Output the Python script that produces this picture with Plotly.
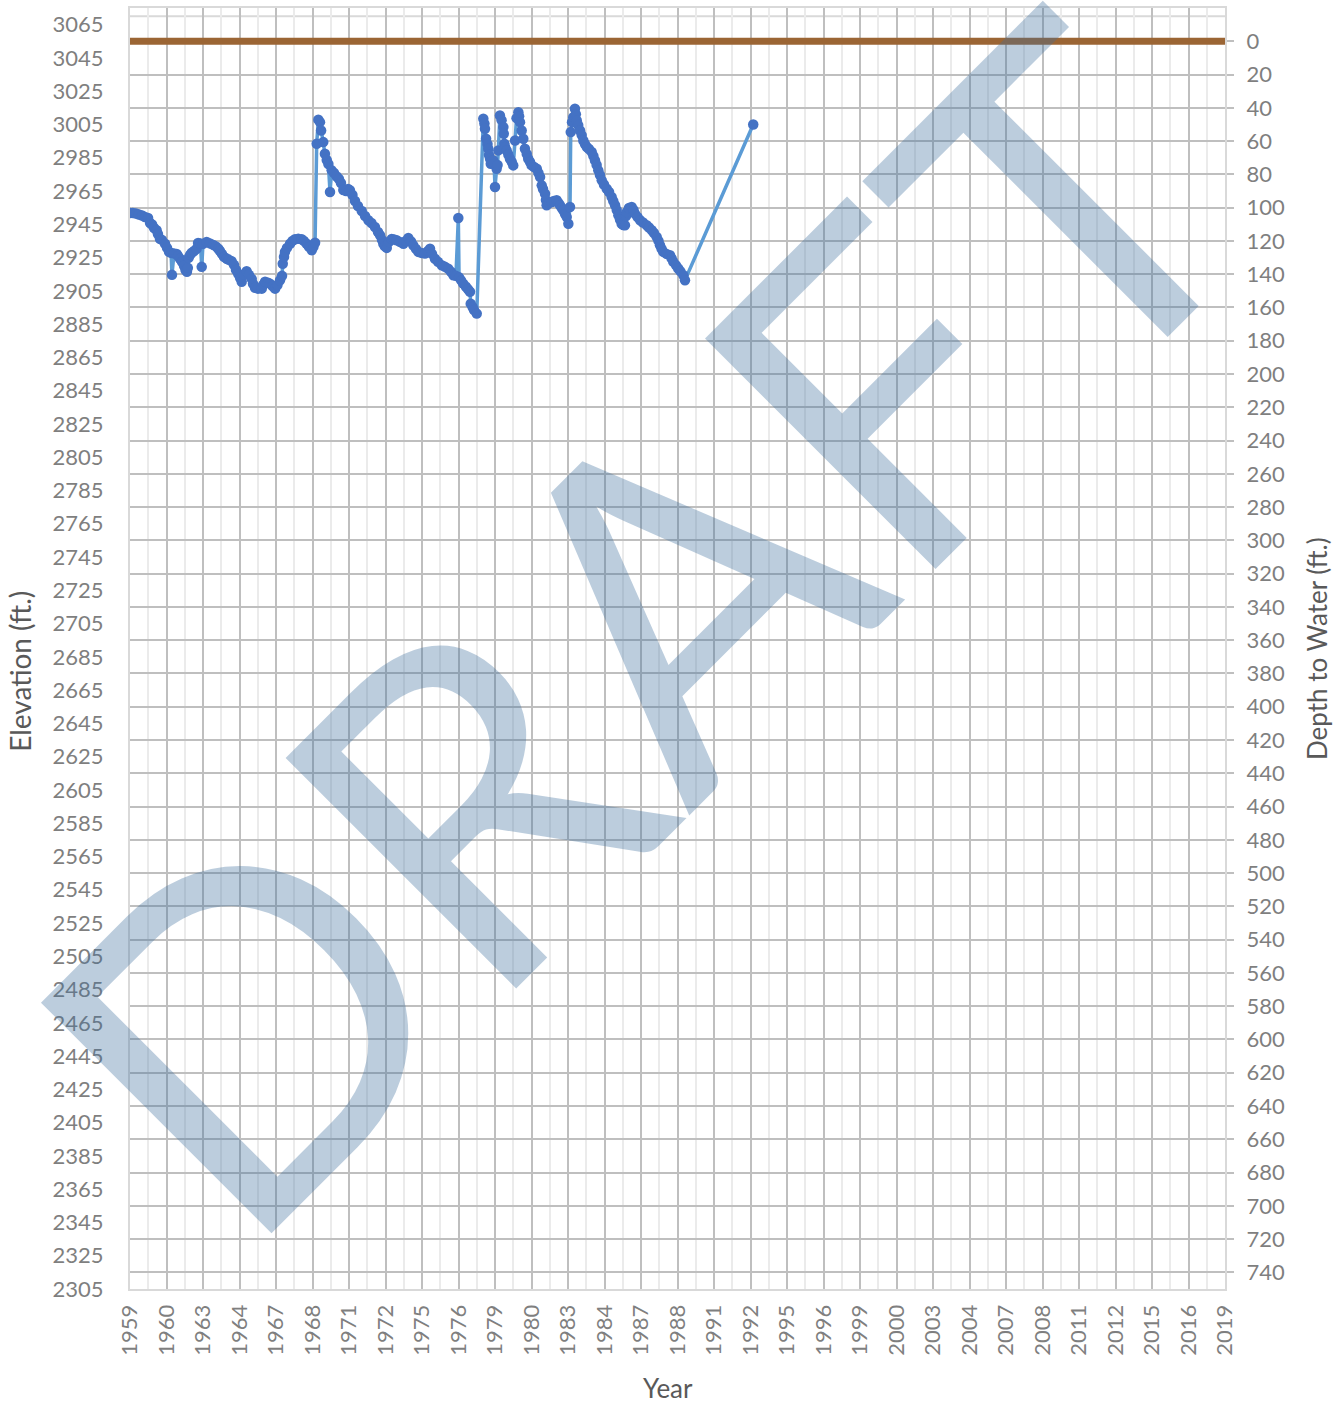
import plotly.graph_objects as go

# ---------------- data ----------------
# x positions are in axis units (each labelled tick = 2 units, first tick = 1959)
year_pos = [
    1959.00, 1959.16, 1959.33, 1959.49, 1959.66, 1959.82, 1959.99, 1960.10, 1960.21, 1960.32,
    1960.46, 1960.53, 1960.64, 1960.75, 1960.92, 1961.03, 1961.14, 1961.25, 1961.30, 1961.41,
    1961.56, 1961.63, 1961.74, 1961.85, 1961.96, 1962.04, 1962.12, 1962.17, 1962.21, 1962.29,
    1962.38, 1962.51, 1962.65, 1962.73, 1962.86, 1962.93, 1963.00, 1963.20, 1963.38, 1963.56,
    1963.71, 1963.84, 1963.93, 1964.04, 1964.15, 1964.30, 1964.42, 1964.57, 1964.70, 1964.81,
    1964.93, 1965.03, 1965.12, 1965.25, 1965.39, 1965.52, 1965.67, 1965.74, 1965.85, 1966.01,
    1966.22, 1966.29, 1966.40, 1966.56, 1966.67, 1966.81, 1966.95, 1967.08, 1967.22, 1967.33,
    1967.37, 1967.44, 1967.49, 1967.60, 1967.77, 1967.90, 1968.04, 1968.22, 1968.41, 1968.53,
    1968.68, 1968.81, 1968.96, 1969.05, 1969.14, 1969.23, 1969.32, 1969.41, 1969.47, 1969.59,
    1969.68, 1969.78, 1969.87, 1969.96, 1970.05, 1970.18, 1970.33, 1970.45, 1970.56, 1970.69,
    1970.84, 1970.95, 1971.05, 1971.19, 1971.33, 1971.49, 1971.70, 1971.88, 1972.06, 1972.23,
    1972.42, 1972.59, 1972.70, 1972.81, 1972.88, 1972.97, 1973.07, 1973.19, 1973.34, 1973.47,
    1973.61, 1973.79, 1973.98, 1974.12, 1974.25, 1974.40, 1974.52, 1974.67, 1974.80, 1974.97,
    1975.16, 1975.33, 1975.44, 1975.55, 1975.71, 1975.88, 1976.08, 1976.26, 1976.44, 1976.59,
    1976.72, 1976.86, 1976.99, 1977.03, 1977.14, 1977.26, 1977.41, 1977.52, 1977.63, 1977.67,
    1977.77, 1977.85, 1978.00,
    1978.36, 1978.42, 1978.45, 1978.51, 1978.59, 1978.63, 1978.67, 1978.73, 1978.77, 1978.81,
    1978.91, 1978.95, 1979.00, 1979.09, 1979.14, 1979.18, 1979.27, 1979.36, 1979.46, 1979.48,
    1979.51, 1979.55, 1979.64, 1979.73, 1979.82, 1979.92, 1980.00, 1980.10, 1980.18, 1980.28,
    1980.32, 1980.37, 1980.46, 1980.55, 1980.64, 1980.74, 1980.82, 1980.92, 1981.01, 1981.14,
    1981.29, 1981.38, 1981.47, 1981.56, 1981.63, 1981.74, 1981.79, 1981.83, 1981.96, 1982.11,
    1982.23, 1982.38, 1982.48, 1982.56, 1982.66, 1982.74, 1982.84, 1982.93, 1983.02, 1983.11,
    1983.15, 1983.22, 1983.29, 1983.38, 1983.43, 1983.48, 1983.56, 1983.66, 1983.75, 1983.84,
    1983.93, 1984.03, 1984.15, 1984.30, 1984.39, 1984.48, 1984.57, 1984.66, 1984.75, 1984.85,
    1984.97, 1985.12, 1985.25, 1985.39, 1985.48, 1985.58, 1985.67, 1985.76, 1985.85, 1985.94,
    1986.03, 1986.12, 1986.18, 1986.22, 1986.34, 1986.49, 1986.59, 1986.67, 1986.81, 1986.95,
    1987.11, 1987.31, 1987.44, 1987.59, 1987.71, 1987.86, 1987.96, 1988.04, 1988.13, 1988.22,
    1988.40, 1988.59, 1988.68, 1988.77, 1988.92, 1989.04, 1989.16, 1989.32, 1989.41,
    1993.15,
]

elevation_ft = [
    2951.8, 2951.8, 2951.5, 2950.9, 2950.3, 2949.4, 2948.8, 2945.8, 2944.9, 2942.8,
    2941.4, 2939.2, 2936.3, 2935.6, 2933.3, 2930.8, 2928.4, 2927.8, 2914.6, 2927.5,
    2927.2, 2926.0, 2924.3, 2922.4, 2920.0, 2917.5, 2916.4, 2918.8, 2924.8, 2926.6,
    2927.9, 2928.9, 2930.3, 2933.8, 2933.5, 2919.4, 2933.2, 2934.4, 2933.5, 2932.6,
    2931.7, 2930.3, 2928.9, 2927.2, 2925.4, 2924.3, 2923.6, 2922.8, 2920.6, 2917.5,
    2915.3, 2912.8, 2910.4, 2914.6, 2916.8, 2914.6, 2912.2, 2909.2, 2906.8, 2906.3,
    2906.3, 2908.5, 2910.4, 2909.8, 2909.3, 2907.9, 2906.3, 2908.5, 2911.4, 2914.0,
    2921.3, 2925.4, 2928.4, 2930.8, 2933.3, 2935.0, 2936.0, 2936.3, 2936.0, 2935.0,
    2933.3, 2931.4, 2929.4, 2931.4, 2933.9, 2993.4, 3007.9, 3006.4, 3001.4, 2994.4,
    2987.4, 2983.6, 2981.2, 2964.4, 2977.4, 2975.8, 2973.7, 2972.2, 2969.8, 2965.6,
    2965.0, 2966.2, 2965.4, 2962.6, 2959.0, 2956.0, 2953.0, 2950.0, 2947.4, 2945.8,
    2943.4, 2940.4, 2938.4, 2935.6, 2933.3, 2931.7, 2930.8, 2934.4, 2936.2, 2935.9,
    2935.4, 2934.4, 2933.3, 2935.0, 2936.8, 2934.7, 2932.4, 2930.2, 2928.4, 2927.8,
    2927.4, 2929.0, 2930.3, 2927.2, 2924.3, 2922.4, 2920.4, 2919.4, 2918.3, 2916.4,
    2914.4, 2914.0, 2948.8, 2913.1, 2911.3, 2909.3, 2907.4, 2905.9, 2904.4, 2897.3,
    2895.3, 2893.4, 2891.3,
    3008.4, 3005.5, 3002.4, 2996.4, 2993.2, 2990.4, 2986.6, 2984.4, 2981.4, 2983.0,
    2983.4, 2981.2, 2967.4, 2978.4, 2980.6, 2989.4, 3010.4, 3007.6, 3003.4, 2999.4,
    2993.4, 2991.4, 2989.4, 2986.9, 2984.4, 2982.4, 2980.4, 2995.4, 3008.8, 3012.4,
    3010.0, 3006.4, 3001.4, 2996.4, 2990.4, 2987.2, 2984.4, 2982.4, 2980.4, 2979.4,
    2978.4, 2975.8, 2973.4, 2968.4, 2966.2, 2963.4, 2959.6, 2956.4, 2957.8, 2958.4,
    2959.0, 2959.4, 2957.8, 2956.4, 2954.8, 2953.4, 2951.2, 2949.4, 2945.3, 2955.4,
    3000.4, 3006.4, 3009.4, 3014.4, 3011.2, 3007.4, 3004.6, 3001.4, 2998.6, 2995.4,
    2993.2, 2991.4, 2990.2, 2988.4, 2986.0, 2983.4, 2980.6, 2977.4, 2974.6, 2971.4,
    2968.9, 2966.4, 2964.4, 2961.4, 2959.0, 2956.4, 2953.6, 2950.4, 2947.9, 2945.3,
    2944.6, 2944.4, 2950.0, 2952.4, 2954.8, 2955.4, 2953.6, 2951.4, 2949.4, 2947.4,
    2946.1, 2944.4, 2943.1, 2941.4, 2939.8, 2937.4, 2935.0, 2932.4, 2930.2, 2928.4,
    2927.2, 2926.4, 2924.5, 2922.4, 2920.3, 2918.4, 2916.7, 2914.4, 2911.4,
    3005.0,
]

# ground surface (depth to water = 0)
ground_x = [1959, 2019]
ground_depth = [0, 0]

x_tick_labels = ["1959", "1960", "1963", "1964", "1967", "1968", "1971", "1972", "1975", "1976",
                 "1979", "1980", "1983", "1984", "1987", "1988", "1991", "1992", "1995", "1996",
                 "1999", "2000", "2003", "2004", "2007", "2008", "2011", "2012", "2015", "2016",
                 "2019"]
x_tick_vals = [1959 + 2 * i for i in range(len(x_tick_labels))]
elev_ticks = list(range(2305, 3066, 20))
depth_ticks = list(range(0, 741, 20))

# ---------------- figure ----------------
TICK = "#7F7F7F"
TITLE = "#595959"
GRID = "#BFBFBF"
FONT = "Lato, Carlito, Calibri, sans-serif"

fig = go.Figure()
fig.add_trace(go.Scatter(x=ground_x, y=ground_depth, yaxis="y2", mode="lines",
                         line=dict(color="#9B6534", width=7), hoverinfo="skip",
                         showlegend=False))
fig.add_trace(go.Scatter(x=year_pos, y=elevation_ft, mode="lines+markers",
                         line=dict(color="#5B9BD5", width=3.5),
                         marker=dict(color="#4472C4", size=10.5),
                         showlegend=False))

fig.update_layout(
    width=1339, height=1403,
    margin=dict(l=130, r=114, t=6, b=114),
    paper_bgcolor="white", plot_bgcolor="white",
    font=dict(family=FONT, color=TICK, size=22),
    xaxis=dict(range=[1959, 2019], tickmode="array", tickvals=x_tick_vals,
               ticktext=x_tick_labels, tickangle=-90, ticks="",
               ticklabelstandoff=5,
               showgrid=True, gridcolor=GRID, gridwidth=2, zeroline=False,
               showline=True, mirror=True, linecolor="#D9D9D9", linewidth=2,
               tickfont=dict(family=FONT, size=22, color=TICK),
               minor=dict(tickmode="linear", tick0=1960, dtick=2, showgrid=True,
                          gridcolor="#EBEBEB", gridwidth=2, ticks="")),
    yaxis=dict(range=[2305, 3075], tickmode="array", tickvals=elev_ticks,
               showgrid=False, zeroline=False, ticks="", ticklabelstandoff=20,
               showline=True, linecolor="#D9D9D9", linewidth=2,
               tickfont=dict(family=FONT, size=22, color=TICK)),
    yaxis2=dict(range=[750, -20], overlaying="y", side="right", tickmode="array",
                tickvals=depth_ticks, showgrid=True, gridcolor=GRID, gridwidth=2,
                zeroline=False, ticks="outside", ticklen=7, tickwidth=2,
                tickcolor=GRID, ticklabelstandoff=8,
                showline=True, linecolor="#D9D9D9", linewidth=2,
                tickfont=dict(family=FONT, size=22, color=TICK)),
    shapes=[dict(type="line", xref="paper", x0=0, x1=1, yref="y2", y0=-15, y1=-15,
                 line=dict(color="#D9D9D9", width=2), layer="below")],
    annotations=[
        dict(text="DRAFT", textangle=-45, x=0.4619, y=0.5222, xref="paper", yref="paper",
             xanchor="center", yanchor="middle", showarrow=False,
             font=dict(family=FONT, size=455, color="rgba(64,112,158,0.35)")),
        dict(text="Elevation (ft.)", textangle=-90, x=-0.1005, y=0.4825, xref="paper",
             yref="paper", xanchor="center", yanchor="middle", showarrow=False,
             font=dict(family=FONT, size=28, color=TITLE)),
        dict(text="Depth to Water (ft.)", textangle=-90, x=1.084, y=0.5004, xref="paper",
             yref="paper", xanchor="center", yanchor="middle", showarrow=False,
             font=dict(family=FONT, size=26, color=TITLE)),
        dict(text="Year", x=0.4913, y=-0.0772, xref="paper", yref="paper",
             xanchor="center", yanchor="middle", showarrow=False,
             font=dict(family=FONT, size=26, color=TITLE)),
    ],
)

fig.write_html("out.html", post_script="document.body.style.margin='0px';",
               config={"displayModeBar": False})
